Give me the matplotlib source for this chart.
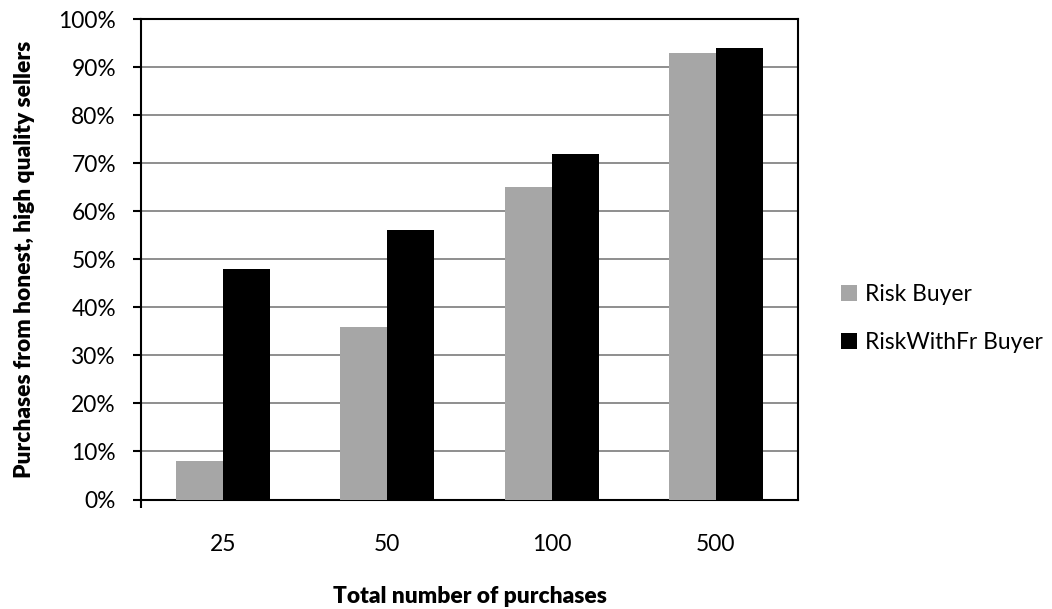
import matplotlib.pyplot as plt
import numpy as np
from matplotlib.ticker import PercentFormatter

# Datos
purchases = ["25", "50", "100", "500"]
risk_buyer = [8, 36, 65, 93]
risk_with_fr_buyer = [48, 56, 72, 94]
series_names = ["Risk Buyer", "RiskWithFr Buyer"]

plt.rcParams['font.family'] = ['Lato', 'DejaVu Sans']
fs = 16.4

fig = plt.figure(figsize=(10.52, 6.09), dpi=100)
ax = fig.add_axes([0.134, 0.1798, 0.6246, 0.789])

x = np.arange(len(purchases))
width = 0.286
ax.bar(x - width / 2, risk_buyer, width, color="#a6a6a6", label=series_names[0], zorder=3)
ax.bar(x + width / 2, risk_with_fr_buyer, width, color="black", label=series_names[1], zorder=3)

ax.set_xlim(-0.5, len(purchases) - 0.5)
ax.set_ylim(0, 100)
ax.set_yticks(np.arange(0, 101, 10))
ax.yaxis.set_major_formatter(PercentFormatter(decimals=0))
ax.grid(axis="y", color="#868686", linewidth=1.3, zorder=0)

ax.set_xticks(x)
ax.set_xticklabels(purchases)
ax.set_xticks([-0.5], minor=True)
ax.tick_params(axis="x", which="major", length=0, pad=25, labelsize=fs)
ax.tick_params(axis="x", which="minor", length=6, width=1.5, direction="out")
ax.tick_params(axis="y", length=6, width=1.5, pad=12, labelsize=fs)

for side in ax.spines.values():
    side.set_linewidth(1.5)
    side.set_color("black")

ax.set_xlabel("Total number of purchases", fontsize=fs, fontweight="heavy", labelpad=22)
ax.set_ylabel("Purchases from honest, high quality sellers", fontsize=fs, fontweight="heavy", labelpad=17)

fig.legend(loc="center left", bbox_to_anchor=(0.78, 0.477), frameon=False,
           fontsize=fs, handlelength=0.7, handleheight=0.7, handletextpad=0.35,
           labelspacing=1.15)

fig.savefig("out.png", dpi=100)
